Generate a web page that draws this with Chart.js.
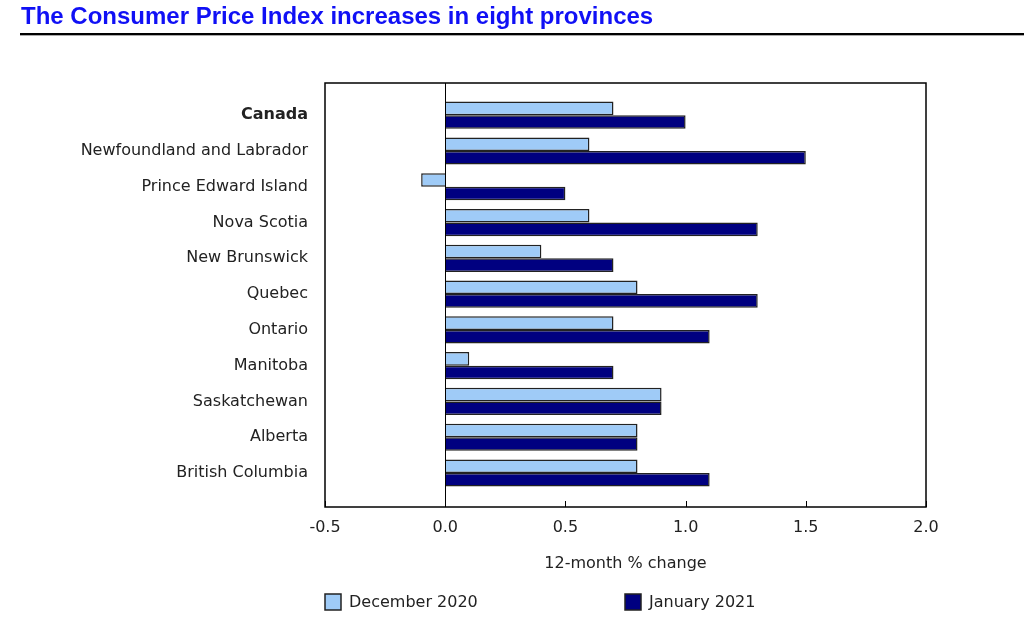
<!DOCTYPE html>
<html>
<head>
<meta charset="utf-8">
<script src="https://cdn.jsdelivr.net/npm/chart.js@4/dist/chart.umd.min.js"></script>
<style>
  html, body { margin: 0; padding: 0; background: #fff; }
  #wrap { position: relative; width: 1024px; height: 629px; overflow: hidden; }
  #title { position: absolute; left: 21px; top: 2px; font-family: "Liberation Sans", Arial, sans-serif; font-weight: bold; font-size: 24px; color: #1010f5; white-space: nowrap; }
  #rule { position: absolute; left: 20px; top: 33px; width: 1004px; height: 2px; background: #000; border-bottom: 1px solid #aaa; }
  #c { position: absolute; left: 0; top: 0; }
</style>
</head>
<body>
<div id="wrap">
  <canvas id="c" width="1024" height="629"></canvas>
  <div id="title">The Consumer Price Index increases in eight provinces</div>
  <div id="rule"></div>
</div>
<script>
const categories = ["Canada", "Newfoundland and Labrador", "Prince Edward Island", "Nova Scotia", "New Brunswick", "Quebec", "Ontario", "Manitoba", "Saskatchewan", "Alberta", "British Columbia"];
const december2020 = [0.7, 0.6, -0.1, 0.6, 0.4, 0.8, 0.7, 0.1, 0.9, 0.8, 0.8];
const january2021 = [1.0, 1.5, 0.5, 1.3, 0.7, 1.3, 1.1, 0.7, 0.9, 0.8, 1.1];
const seriesNames = ["December 2020", "January 2021"];
const seriesColors = ["#9fcbf7", "#000080"];
const xTicks = [-0.5, 0.0, 0.5, 1.0, 1.5, 2.0];
const xAxisTitle = "12-month % change";

const FONT = "'DejaVu Sans', Verdana, sans-serif";
const FS = 16;

function toPoints(arr) { return arr.map((v, i) => ({ x: v, y: i })); }

const framePlugin = {
  id: 'frame',
  afterDraw(chart) {
    const { ctx, chartArea: a, scales } = chart;
    const xs = scales.x;
    ctx.save();
    ctx.strokeStyle = '#000';
    ctx.lineWidth = 1.5;
    ctx.strokeRect(a.left, a.top, a.right - a.left, a.bottom - a.top);
    const x0 = Math.round(xs.getPixelForValue(0)) + 0.5;
    ctx.lineWidth = 1;
    ctx.beginPath(); ctx.moveTo(x0, a.top); ctx.lineTo(x0, a.bottom); ctx.stroke();
    xTicks.forEach(v => {
      const px = Math.round(xs.getPixelForValue(v)) + 0.5;
      ctx.beginPath(); ctx.moveTo(px, a.bottom); ctx.lineTo(px, a.bottom - 6); ctx.stroke();
    });
    ctx.font = FS + 'px ' + FONT;
    ctx.textBaseline = 'middle';
    const legendX = [325, 625];
    const ly = 602;
    chart.data.datasets.forEach((ds, i) => {
      const lx = legendX[i];
      ctx.fillStyle = ds.backgroundColor;
      ctx.fillRect(lx, ly - 8, 16, 16);
      ctx.strokeStyle = '#222';
      ctx.lineWidth = 1.5;
      ctx.strokeRect(lx, ly - 8, 16, 16);
      ctx.fillStyle = '#222';
      ctx.textAlign = 'left';
      ctx.fillText(ds.label, lx + 24, ly + 1);
    });
    ctx.restore();
  }
};

new Chart(document.getElementById('c'), {
  type: 'bar',
  data: {
    datasets: [
      { label: seriesNames[0], data: toPoints(december2020), backgroundColor: seriesColors[0], borderColor: '#222', borderWidth: 1.5, categoryPercentage: 0.76, barPercentage: 1.0 },
      { label: seriesNames[1], data: toPoints(january2021), backgroundColor: seriesColors[1], borderColor: '#222', borderWidth: 1.5, categoryPercentage: 0.76, barPercentage: 1.0 }
    ]
  },
  options: {
    indexAxis: 'y',
    responsive: false,
    animation: false,
    devicePixelRatio: 1,
    layout: { padding: { left: 0, right: 98, top: 83, bottom: 52 } },
    plugins: { legend: { display: false }, tooltip: { enabled: false }, title: { display: false } },
    scales: {
      x: {
        type: 'linear',
        min: -0.5, max: 2.0,
        afterBuildTicks: s => { s.ticks = xTicks.map(v => ({ value: v })); },
        afterFit: s => { s.height = 70; },
        grid: { display: false, drawTicks: false },
        border: { display: false },
        ticks: { padding: 11, color: '#222', font: { family: FONT, size: FS }, callback: v => Number(v).toFixed(1), maxRotation: 0 },
        title: { display: true, text: xAxisTitle, color: '#222', font: { family: FONT, size: FS }, padding: { top: 12 } }
      },
      y: {
        type: 'linear',
        reverse: true,
        min: -0.9, max: 10.95,
        offset: false,
        afterBuildTicks: s => { s.ticks = categories.map((c, i) => ({ value: i })); },
        afterFit: s => { s.width = 325; },
        grid: { display: false, drawTicks: false },
        border: { display: false },
        ticks: {
          padding: 17,
          color: '#222',
          autoSkip: false,
          font: ctx => ({ family: FONT, size: FS, weight: (ctx.tick && ctx.tick.value === 0) ? 'bold' : 'normal' }),
          callback: v => categories[v]
        }
      }
    }
  },
  plugins: [framePlugin]
});
</script>
</body>
</html>
